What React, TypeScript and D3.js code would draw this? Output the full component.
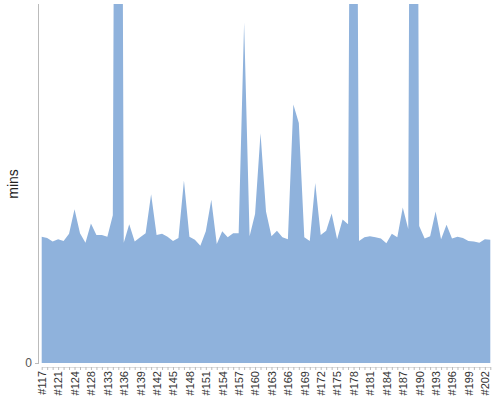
import * as d3 from "d3";
import React, { useEffect, useRef } from "react";

// build numbers (every 3rd one is labelled)
const builds = [
  117, 118, 120, 121, 122, 123, 124, 125, 127, 128, 130, 131,
  ...d3.range(133, 204),
];

// build duration in minutes
const mins = [
  21.1, 20.9, 20.3, 20.7, 20.4, 21.6, 25.7, 21.7, 20.1, 23.3, 21.4, 21.4,
  21.1, 24.7, 270, 20.1, 23.2, 20.3, 21.0, 21.7, 28.2, 21.4, 21.6, 21.1,
  20.4, 20.9, 30.5, 21.1, 20.6, 19.6, 22.0, 27.3, 19.9, 22.0, 21.0, 21.7,
  21.7, 56.9, 21.2, 24.9, 38.4, 25.3, 21.2, 22.1, 21.0, 20.7, 43.2, 40.1,
  21.0, 20.4, 30.1, 21.4, 22.1, 25.0, 20.7, 24.0, 23.2, 208, 20.4, 21.0,
  21.2, 21.0, 20.8, 20.0, 21.6, 21.0, 26.0, 22.4, 272, 22.9, 20.8, 21.2,
  25.3, 20.7, 23.1, 20.8, 21.1, 20.9, 20.4, 20.3, 20.1, 20.7, 20.6,
];

const yTicks = [0];

const W = 500;
const H = 400;
const plot = { left: 38, right: 495, top: 4, bottom: 363 };

const App: React.FC = () => {
  const ref = useRef<SVGSVGElement>(null);

  useEffect(() => {
    if (!ref.current) return;
    const svg = d3.select(ref.current);
    svg.selectAll("*").remove();

    const labels = builds.map((b) => `#${b}`);
    const data = labels.map((l, i) => ({ label: l, value: mins[i] }));

    const x = d3.scalePoint<string>().domain(labels).range([41.7, 490.3]);
    const y = d3.scaleLinear().domain([0, 60]).range([plot.bottom, plot.top]);

    svg
      .append("defs")
      .append("clipPath")
      .attr("id", "plot-clip")
      .append("rect")
      .attr("x", plot.left)
      .attr("y", plot.top)
      .attr("width", plot.right - plot.left)
      .attr("height", plot.bottom - plot.top);

    const area = d3
      .area<{ label: string; value: number }>()
      .x((d) => x(d.label)!)
      .y0(y(0))
      .y1((d) => y(d.value));

    svg
      .append("path")
      .datum(data)
      .attr("clip-path", "url(#plot-clip)")
      .attr("fill", "#8fb2dc")
      .attr("d", area);

    // y axis
    const gy = svg
      .append("g")
      .attr("transform", `translate(${plot.left},0)`)
      .call(d3.axisLeft(y).tickValues(yTicks).tickSize(3).tickPadding(3));
    gy.select(".domain")
      .attr("d", `M0.5,${plot.top}V${plot.bottom + 1}`)
      .attr("stroke", "#bbb");
    gy.selectAll(".tick line").attr("stroke", "#bbb");
    gy.selectAll(".tick text")
      .attr("fill", "#555")
      .attr("font-size", 12)
      .attr("font-family", "Liberation Sans, Arial, sans-serif");

    // x axis
    const gx = svg
      .append("g")
      .attr("transform", `translate(0,367)`)
      .call(
        d3
          .axisBottom(x)
          .tickSize(3)
          .tickSizeOuter(0)
          .tickFormat((d, i) => (i % 3 === 0 ? d : ""))
      );
    gx.select(".domain").attr("stroke", "#ddd");
    gx.selectAll(".tick line").attr("stroke", "#bbb");
    gx.selectAll(".tick text")
      .attr("transform", "rotate(-90)")
      .attr("text-anchor", "end")
      .attr("x", -4)
      .attr("y", 0)
      .attr("dy", "0.35em")
      .attr("fill", "#333")
      .attr("font-size", 11)
      .attr("font-family", "Liberation Sans, Arial, sans-serif");

    svg
      .append("text")
      .attr("transform", `translate(18,184) rotate(-90)`)
      .attr("text-anchor", "middle")
      .attr("font-size", 14)
      .attr("font-family", "Liberation Sans, Arial, sans-serif")
      .attr("fill", "#222")
      .text("mins");
  }, []);

  return (
    <svg
      ref={ref}
      width={W}
      height={H}
      style={{ position: "absolute", left: 0, top: 0, background: "#fff" }}
    ></svg>
  );
};

export default App;
